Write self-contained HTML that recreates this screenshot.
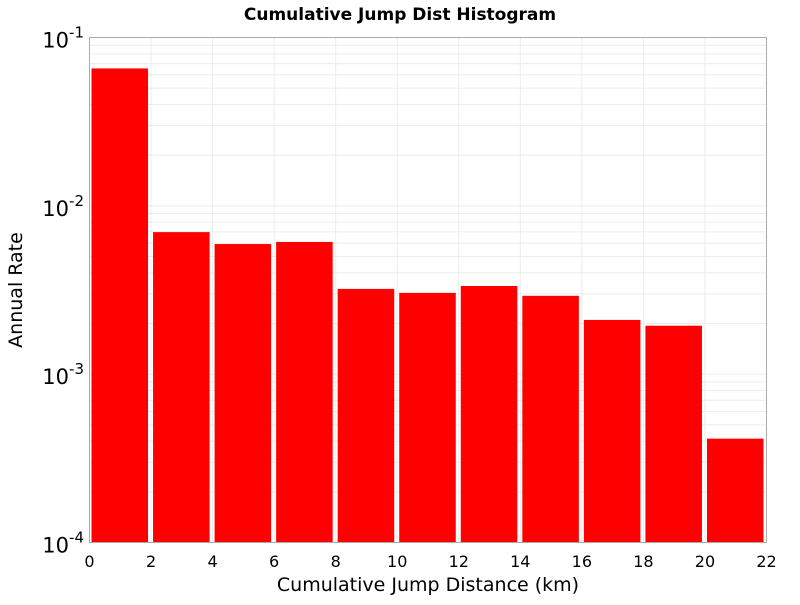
<!DOCTYPE html>
<html><head><meta charset="utf-8"><style>
body{margin:0;background:#fff;}
svg text{font-family:"DejaVu Sans","Liberation Sans",sans-serif;}
</style></head><body>
<svg id="chart" width="800" height="600" xmlns="http://www.w3.org/2000/svg">
<text x="400" y="20" text-anchor="middle" font-size="17" font-weight="bold">Cumulative Jump Dist Histogram</text>
<g id="grid"></g>
<g id="bars"></g>
<rect x="89.5" y="37.5" width="677" height="505" fill="none" stroke="#aaa"/>
<g id="xticks"></g>
<g id="yticks"></g>
<text x="428" y="591" text-anchor="middle" font-size="19">Cumulative Jump Distance (km)</text>
<text transform="translate(22,290) rotate(-90)" text-anchor="middle" font-size="19">Annual Rate</text>
</svg>
<script>
const binStarts=[0,2,4,6,8,10,12,14,16,18,20];
const rates=[0.0655,0.00698,0.00593,0.0061,0.00321,0.00304,0.00334,0.00292,0.0021,0.00194,0.000414];
const xTicks=[0,2,4,6,8,10,12,14,16,18,20,22];
const yExps=[-1,-2,-3,-4];
const NS="http://www.w3.org/2000/svg";
const L=89.5,R=766.5,T=37.5,B=542.5;
const xs=v=>L+(v-0)/22*(R-L);
const ys=v=>T+(-1-Math.log10(v))/3*(B-T);
function mk(t,a,p){const e=document.createElementNS(NS,t);for(const k in a)e.setAttribute(k,a[k]);p.appendChild(e);return e;}
const grid=document.getElementById('grid');
for(let e=-4;e<-1;e++){for(let m=1;m<10;m++){const y=ys(m*Math.pow(10,e));
const ln=mk('line',{x1:L,x2:R,y1:y,y2:y,stroke:'#ececec','stroke-width':1},grid);

}}
xTicks.forEach(v=>{const x=xs(v);
const ln=mk('line',{x1:x,x2:x,y1:T,y2:B,stroke:'#ececec','stroke-width':1},grid);


const t=mk('text',{x:x,y:567,'text-anchor':'middle','font-size':16},document.getElementById('xticks'));
t.textContent=v;

});
yExps.forEach(e=>{const y=ys(Math.pow(10,e));
const t=mk('text',{x:84,y:y+10,'text-anchor':'end','font-size':21},document.getElementById('yticks'));
t.innerHTML='10<tspan dy="-10" font-size="15">'+e+'</tspan>';

});
const bars=document.getElementById('bars');
binStarts.forEach((s,i)=>{const x0=xs(s)+2,x1=xs(s+2)-3,y=ys(rates[i]);
const r=mk('rect',{x:x0,y:y,width:x1-x0,height:B-y,fill:'#ff0000'},bars);

});
</script>
</body></html>
